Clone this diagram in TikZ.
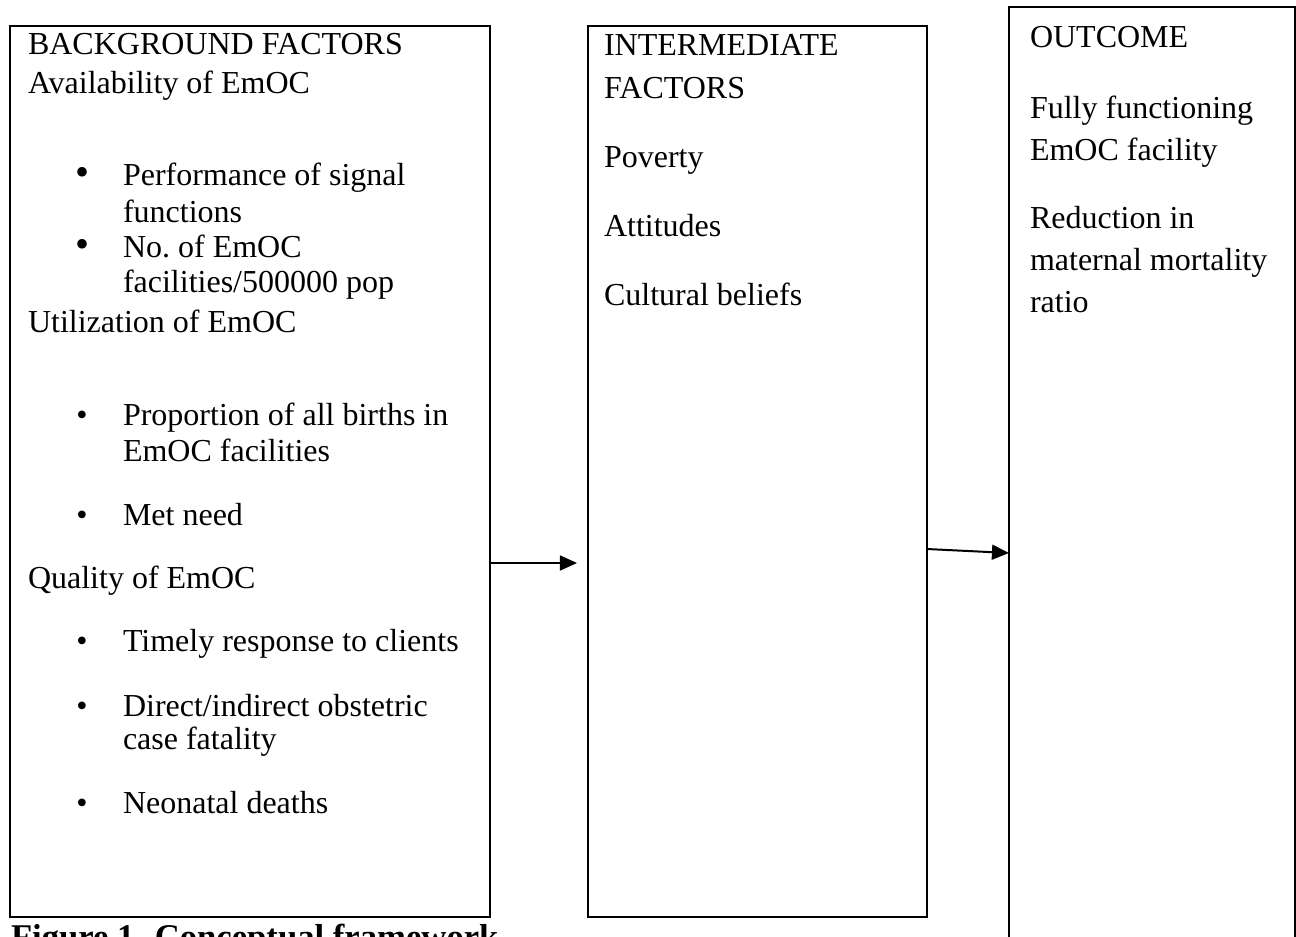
\documentclass[tikz,border=0pt]{standalone}
\usepackage{fontspec}
\setmainfont{Liberation Serif}
\usetikzlibrary{arrows.meta}
\newdimen\px \px=0.375pt

\begin{document}
\begin{tikzpicture}[x=0.375pt,y=-0.375pt,line width=0.75pt,>=Stealth,
  box/.style={draw,inner sep=0pt,outer sep=0pt,anchor=north west},
  txt/.style={anchor=base west,inner sep=0pt,font=\fontsize{12}{13.8}\selectfont},
  bigdot/.style={anchor=base,inner sep=0pt,font=\fontsize{15}{15}\selectfont},
  smalldot/.style={anchor=base,inner sep=0pt,font=\fontsize{12}{13.8}\selectfont},
  arr/.style={-{Triangle[length=6.4pt,width=5.6pt]}}]
\useasboundingbox (0,0) rectangle (1296,936);
% ---------- boxes ----------
\node[box,minimum width=480\px,minimum height=891\px] (bf) at (10,26) {};
\node[box,minimum width=339\px,minimum height=891\px] (im) at (588,26) {};
\node[box,minimum width=286\px,minimum height=960\px] (oc) at (1009,7) {};
% ---------- background factors ----------
\node[txt] (bfhead) at (27,54) {BACKGROUND FACTORS};
\node[txt] (avail) at (27,93) {Availability of EmOC};
\node[bigdot] (d1) at (82,185) {•};
\node[txt] (perf) at (122,185) {Performance of signal};
\node[txt] (perfb) at (122,222) {functions};
\node[bigdot] (d2) at (82,257) {•};
\node[txt] (num) at (122,257) {No.\ of EmOC};
\node[txt] (numb) at (122,292) {facilities/500000 pop};
\node[txt] (util) at (27,332) {Utilization of EmOC};
\node[smalldot] (d3) at (82,425) {•};
\node[txt] (prop) at (122,425) {Proportion of all births in};
\node[txt] (propb) at (122,461) {EmOC facilities};
\node[smalldot] (d4) at (82,525) {•};
\node[txt] (met) at (122,525) {Met need};
\node[txt] (qual) at (27,588) {Quality of EmOC};
\node[smalldot] (d5) at (82,651) {•};
\node[txt] (time) at (122,651) {Timely response to clients};
\node[smalldot] (d6) at (82,716) {•};
\node[txt] (fat) at (122,716) {Direct/indirect obstetric};
\node[txt] (fatb) at (122,749) {case fatality};
\node[smalldot] (d7) at (82,813) {•};
\node[txt] (neo) at (122,813) {Neonatal deaths};
% ---------- intermediate factors ----------
\node[txt] (imhead) at (603,55) {INTERMEDIATE};
\node[txt] (imheadb) at (603,98) {FACTORS};
\node[txt] (pov) at (603,167) {Poverty};
\node[txt] (att) at (603,236) {Attitudes};
\node[txt] (cult) at (603,305) {Cultural beliefs};
% ---------- outcome ----------
\node[txt] (ochead) at (1029,47) {OUTCOME};
\node[txt] (full) at (1029,118) {Fully functioning};
\node[txt] (fullb) at (1029,160) {EmOC facility};
\node[txt] (red) at (1029,228) {Reduction in};
\node[txt] (redb) at (1029,270) {maternal mortality};
\node[txt] (redc) at (1029,312) {ratio};
% ---------- caption ----------
\node[txt,font=\fontsize{13}{15}\selectfont\bfseries] (cap) at (10,948) {Figure 1. Conceptual framework};
% ---------- arrows ----------
\coordinate (a1) at (577,563);
\coordinate (a2) at (927,549);
\coordinate (a3) at (1008,553);
\draw[arr] (bf.east |- a1) -- (a1);
\draw[arr] (im.east |- a2) -- (oc.west |- a3);
\end{tikzpicture}
\end{document}
